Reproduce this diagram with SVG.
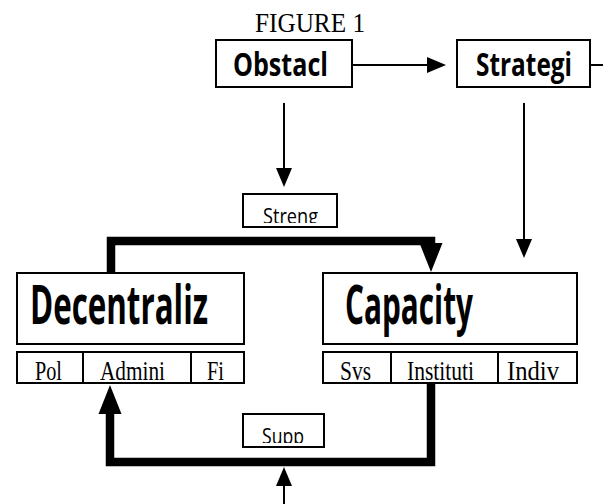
<svg xmlns="http://www.w3.org/2000/svg" width="603" height="504" viewBox="0 0 603 504">
<style>
rect{fill:#fff;stroke:#000;stroke-width:2}
.b{font-family:"Open Sans","Liberation Sans",sans-serif;font-weight:700;fill:#000}
.s{font-family:"Open Sans","Liberation Sans",sans-serif;font-weight:400;fill:#000;font-size:21px}
.t{font-family:"Liberation Serif","Times New Roman",serif;fill:#000;font-size:27px}
.thin{fill:none;stroke:#000;stroke-width:2}
.thick{fill:none;stroke:#000;stroke-width:8.5}
</style>
<defs>
<marker id="ah" markerUnits="userSpaceOnUse" markerWidth="20" markerHeight="16" refX="0" refY="8" orient="auto" overflow="visible"><path d="M0,0 L19,8 L0,16 z" fill="#000"/></marker>
<marker id="ahT" markerUnits="userSpaceOnUse" markerWidth="30" markerHeight="23" refX="0" refY="11.5" orient="auto" overflow="visible"><path d="M0,0 L29,11.5 L0,23 z" fill="#000"/></marker>
<clipPath id="cS"><rect x="243" y="194" width="94" height="29"/></clipPath>
<clipPath id="cP"><rect x="243" y="414" width="81" height="29"/></clipPath>
</defs>
<text x="255" y="32" class="t" font-size="25" textLength="110" lengthAdjust="spacingAndGlyphs">FIGURE 1</text>
<g id="connectors">
<path class="thin" d="M352,65 H427" marker-end="url(#ah)"/>
<path class="thin" d="M590,65 H603"/>
<path class="thin" d="M284,103 V168" marker-end="url(#ah)"/>
<path class="thin" d="M524,103 V239" marker-end="url(#ah)"/>
<path class="thick" d="M111,273 V241 H431 V243" marker-end="url(#ahT)"/>
<path class="thick" d="M431,383 V462 H110 V414" marker-end="url(#ahT)"/>
<path class="thin" d="M284,504 V486" marker-end="url(#ah)"/>
</g>
<g id="obstacl">
<rect x="216" y="40" width="136" height="47"/>
<text x="233" y="76" class="b" font-size="33" textLength="95" lengthAdjust="spacingAndGlyphs">Obstacl</text>
</g>
<g id="strategi">
<rect x="457" y="40" width="133" height="47"/>
<text x="0" y="0" transform="translate(476,76) scale(1,1.375)" class="b" font-size="24" textLength="96" lengthAdjust="spacingAndGlyphs">Strategi</text>
</g>
<g id="streng">
<rect x="243" y="194" width="94" height="33"/>
<text x="263" y="224" class="s" textLength="55" lengthAdjust="spacingAndGlyphs" clip-path="url(#cS)">Streng</text>
</g>
<g id="decentraliz">
<rect x="17" y="273" width="227" height="71"/>
<text x="30" y="324" class="b" font-size="54" textLength="178" lengthAdjust="spacingAndGlyphs">Decentraliz</text>
</g>
<g id="decentraliz-parts">
<rect x="17" y="352" width="66" height="31"/>
<rect x="83" y="352" width="108" height="31"/>
<rect x="191" y="352" width="53" height="31"/>
<text x="35" y="380" class="t" textLength="27" lengthAdjust="spacingAndGlyphs">Pol</text>
<text x="100" y="380" class="t" textLength="65" lengthAdjust="spacingAndGlyphs">Admini</text>
<text x="207" y="380" class="t" textLength="17" lengthAdjust="spacingAndGlyphs">Fi</text>
</g>
<g id="capacity">
<rect x="323" y="273" width="254" height="71"/>
<text x="345" y="324" class="b" font-size="54" textLength="128" lengthAdjust="spacingAndGlyphs">Capacity</text>
</g>
<g id="capacity-parts">
<rect x="323" y="352" width="68" height="31"/>
<rect x="391" y="352" width="107" height="31"/>
<rect x="498" y="352" width="79" height="31"/>
<text x="340" y="380" class="t" textLength="31" lengthAdjust="spacingAndGlyphs">Svs</text>
<text x="407" y="380" class="t" textLength="67" lengthAdjust="spacingAndGlyphs">Instituti</text>
<text x="507" y="380" class="t" textLength="52" lengthAdjust="spacingAndGlyphs">Indiv</text>
</g>
<g id="supp">
<rect x="243" y="414" width="81" height="33"/>
<text x="262" y="444" class="s" textLength="42" lengthAdjust="spacingAndGlyphs" clip-path="url(#cP)">Supp</text>
</g>
</svg>
